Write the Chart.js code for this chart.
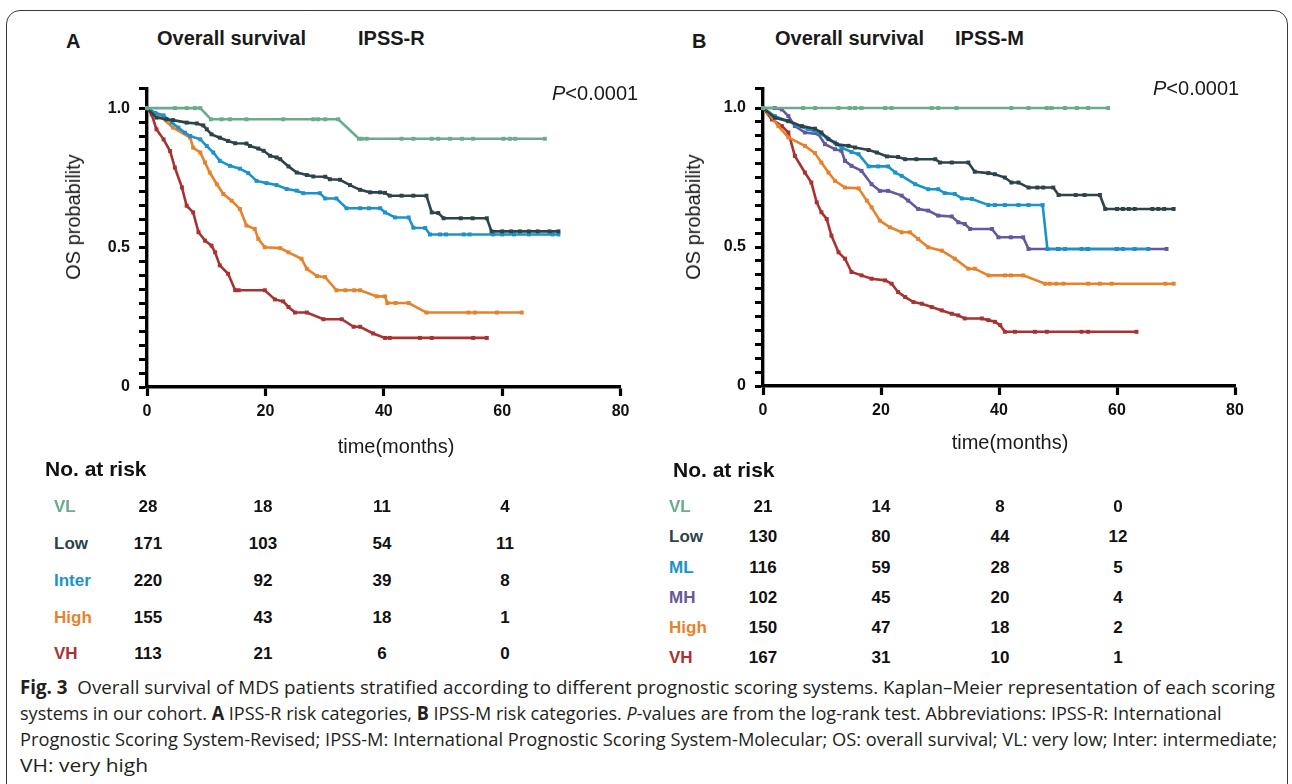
<!DOCTYPE html>
<html>
<head>
<meta charset="utf-8">
<script src="https://cdn.jsdelivr.net/npm/chart.js@4.4.1/dist/chart.umd.min.js"></script>
<style>
  body { margin:0; width:1292px; height:784px; overflow:hidden; background:#fff; position:relative;
         font-family:"Liberation Sans", Arial, sans-serif; color:#1a1a1a; }
  .t { position:absolute; white-space:nowrap; line-height:1; }
  .frame { position:absolute; left:6px; top:10px; width:1280px; height:820px; border:1px solid #3a3a3a; border-radius:14px; }
  canvas { position:absolute; }
  .cap { position:absolute; left:20px; white-space:nowrap; line-height:1; font-family:"Open Sans","DejaVu Sans Condensed",sans-serif;
         font-size:19px; color:#231f20; transform-origin:0 50%; }
</style>
</head>
<body>
<div class="frame"></div>
<canvas id="chartA" width="620" height="400" style="left:30px;top:70px;width:620px;height:400px"></canvas>
<canvas id="chartB" width="620" height="400" style="left:650px;top:70px;width:620px;height:400px"></canvas>
<div id="texts"></div>

<script>
// colours of the risk groups
var cVL = '#6aab8e', cLow = '#2c434a', cInter = '#1b93c9', cHigh = '#e5832b', cVH = '#a83232', cMH = '#65589c';

// panel A, IPSS-R: [months, OS probability]
var aVL = [[0,1],[4.7,1],[6.7,1],[8.1,1],[9,1],[10.8,0.96],[12.6,0.96],[14,0.96],[16.8,0.96],[23,0.96],[28.1,0.96],[28.9,0.96],[30.1,0.96],[32.3,0.96],[35.8,0.89],[36.3,0.89],[37.1,0.89],[43,0.89],[45,0.89],[48.1,0.89],[49.2,0.89],[51.2,0.89],[53.2,0.89],[55.1,0.89],[60.2,0.89],[61.3,0.89],[62.2,0.89],[67.2,0.89]];
var aLow = [[0,1],[1.6,0.966],[3.3,0.96],[4.4,0.957],[6.7,0.948],[8.4,0.945],[9.5,0.938],[10.1,0.924],[10.9,0.906],[12.3,0.894],[13.7,0.882],[14.9,0.874],[16.8,0.873],[17.4,0.864],[18.8,0.855],[19.7,0.847],[20.8,0.829],[21.9,0.823],[22.5,0.817],[23.9,0.791],[25.3,0.769],[27,0.76],[28.1,0.755],[30.1,0.754],[30.9,0.745],[32.6,0.743],[34.3,0.724],[36,0.707],[37.7,0.698],[39.4,0.698],[40.2,0.696],[41,0.686],[43,0.686],[45,0.686],[47.2,0.686],[48.1,0.626],[49.2,0.624],[50.1,0.605],[53,0.605],[55,0.605],[57.4,0.605],[58.2,0.558],[60,0.558],[61.5,0.558],[63,0.558],[64.5,0.558],[66,0.558],[68,0.558],[69.5,0.558]];
var aInter = [[0,1],[1.4,0.983],[2.8,0.974],[4.2,0.948],[5.3,0.93],[6.4,0.912],[7.3,0.9],[9,0.888],[10.1,0.864],[11.2,0.841],[12.3,0.811],[14,0.793],[15.7,0.783],[17.1,0.767],[18.5,0.739],[20.2,0.731],[21.9,0.724],[23.6,0.71],[25.3,0.704],[26.4,0.695],[29.2,0.695],[30.1,0.676],[32,0.676],[33.7,0.641],[36,0.641],[37.5,0.641],[39.4,0.641],[40.2,0.626],[41.9,0.608],[44.2,0.608],[45,0.571],[47,0.57],[47.8,0.547],[49.5,0.547],[50.5,0.547],[53.5,0.547],[54.5,0.547],[58.5,0.547],[60,0.547],[62,0.547],[64.5,0.547],[68.5,0.547],[69.5,0.547]];
var aHigh = [[0,1],[2.2,0.972],[4.4,0.93],[7.3,0.894],[7.8,0.858],[9,0.841],[9.8,0.805],[10.6,0.769],[11.8,0.727],[12.9,0.692],[14.3,0.668],[15.7,0.638],[16.8,0.579],[18.2,0.567],[18.8,0.531],[19.9,0.501],[22.5,0.498],[23.9,0.483],[26.1,0.46],[27,0.424],[28.7,0.398],[30.1,0.394],[32,0.347],[33.5,0.347],[35,0.347],[36,0.347],[38.8,0.325],[40.2,0.325],[40.6,0.301],[42,0.301],[44.2,0.301],[47.2,0.267],[54.3,0.267],[55.4,0.267],[59.1,0.267],[63.3,0.267]];
var aVH = [[0,1],[0.8,0.977],[1.6,0.924],[2.8,0.888],[3.9,0.846],[4.7,0.787],[5.9,0.716],[6.7,0.65],[7.8,0.626],[8.7,0.555],[9.8,0.525],[10.9,0.507],[11.5,0.483],[12.3,0.436],[13.7,0.406],[14.9,0.347],[15.5,0.347],[19.9,0.347],[21.6,0.314],[23,0.307],[23.9,0.287],[25,0.267],[27,0.267],[29.8,0.243],[32.9,0.243],[34.9,0.216],[36,0.216],[38.2,0.192],[40.2,0.176],[41,0.176],[46.1,0.176],[48.1,0.176],[55.1,0.176],[57.4,0.176]];

// panel B, IPSS-M
var bVL = [[0,1],[6.8,1],[8.8,1],[12.8,1],[14.7,1],[15.6,1],[16.7,1],[20.7,1],[21.8,1],[28.6,1],[29.7,1],[32.8,1],[42.1,1],[45,1],[48.1,1],[48.9,1],[51.2,1],[53.2,1],[55.1,1],[58.5,1]];
var bLow = [[0,1],[2,0.965],[4.3,0.953],[6.6,0.935],[8.8,0.926],[9.9,0.912],[11.1,0.888],[12.5,0.87],[14.5,0.864],[15.6,0.858],[17.9,0.849],[19.3,0.84],[21,0.826],[22.9,0.824],[24.1,0.816],[26,0.816],[29.2,0.816],[30,0.804],[32,0.804],[34.8,0.804],[35.9,0.771],[38.2,0.766],[39.3,0.762],[41,0.75],[42.1,0.732],[43.3,0.732],[45,0.714],[46.5,0.714],[47.5,0.714],[49.2,0.714],[50.1,0.687],[53,0.687],[54.5,0.687],[57.1,0.687],[58,0.637],[60,0.637],[61,0.637],[62,0.637],[63,0.637],[66,0.637],[67,0.637],[68,0.637],[69.6,0.637]];
var bML = [[0,1],[2,0.971],[4.3,0.953],[6,0.935],[7.7,0.924],[9.4,0.912],[10.8,0.894],[12.2,0.876],[13.3,0.858],[15,0.842],[16.2,0.834],[17.9,0.79],[19.5,0.79],[21.2,0.79],[22.4,0.768],[23.5,0.756],[25.8,0.726],[28,0.708],[29.7,0.708],[30.8,0.694],[32.5,0.691],[33.7,0.675],[35.4,0.673],[38.2,0.651],[39.3,0.651],[41,0.651],[43.3,0.651],[45,0.651],[47.4,0.651],[48.2,0.493],[50.1,0.493],[51.2,0.493],[54,0.493],[55.1,0.493],[59.9,0.493],[61,0.493],[63,0.493],[65.3,0.493]];
var bMH = [[0,1],[2,1],[3.2,0.995],[4.3,0.971],[5.4,0.935],[7.1,0.912],[9.4,0.906],[10.5,0.87],[12.2,0.852],[13.3,0.846],[13.9,0.81],[15,0.792],[16.7,0.774],[18.4,0.726],[19.8,0.702],[21.2,0.702],[23.5,0.685],[24.6,0.667],[26.3,0.637],[28,0.631],[29.7,0.613],[32,0.61],[33.1,0.589],[34.2,0.583],[35.1,0.565],[38.8,0.565],[39.9,0.535],[42,0.535],[44.1,0.535],[45,0.493],[50,0.493],[55,0.493],[60,0.493],[68.4,0.493]];
var bHigh = [[0,1],[0.9,0.983],[2.6,0.935],[4.3,0.894],[7.1,0.864],[8.8,0.838],[9.9,0.804],[11.1,0.768],[12.2,0.738],[13.9,0.714],[16.2,0.711],[17.6,0.667],[18.4,0.643],[19.8,0.595],[21.5,0.571],[23.5,0.553],[24.9,0.553],[26.3,0.529],[28,0.499],[30.3,0.487],[32.5,0.458],[34.8,0.422],[35.9,0.422],[38.2,0.398],[41,0.398],[42,0.398],[44.1,0.398],[47.8,0.368],[48.6,0.368],[49.7,0.368],[50.9,0.368],[55.1,0.368],[57.1,0.368],[59.1,0.368],[68.2,0.368],[69.6,0.368]];
var bVH = [[0,1],[1.5,0.959],[3.2,0.935],[4.3,0.912],[5.4,0.828],[7.1,0.768],[8.2,0.732],[9.1,0.661],[9.9,0.625],[10.8,0.601],[11.6,0.541],[12.8,0.481],[13.9,0.458],[15,0.41],[16.7,0.398],[18.4,0.386],[20.7,0.38],[21.8,0.368],[22.9,0.338],[24.1,0.32],[25.5,0.302],[26.9,0.296],[28.6,0.284],[30.3,0.272],[32,0.26],[33.1,0.254],[34.2,0.243],[37.1,0.243],[38.2,0.237],[39.3,0.231],[40.2,0.219],[41,0.195],[42.7,0.195],[46.1,0.195],[48.1,0.195],[54,0.195],[55.1,0.195],[63.3,0.195]];

// number at risk tables
var riskLabelsA = ['VL', 'Low', 'Inter', 'High', 'VH'];
var riskColorsA = [cVL, cLow, cInter, cHigh, cVH];
var riskA = [[28,18,11,4],[171,103,54,11],[220,92,39,8],[155,43,18,1],[113,21,6,0]];
var riskLabelsB = ['VL', 'Low', 'ML', 'MH', 'High', 'VH'];
var riskColorsB = [cVL, cLow, cInter, cMH, cHigh, cVH];
var riskB = [[21,14,8,0],[130,80,44,12],[116,59,28,5],[102,45,20,4],[150,47,18,2],[167,31,10,1]];

var xTicks = [0, 20, 40, 60, 80];

function createChart(canvasId, curves, colors, yW, xH, padTop, padRight) {
  var sets = curves.map(function(c, i) {
    return {
      data: c.map(function(p) { return { x: p[0], y: p[1] }; }),
      showLine: true,
      borderColor: colors[i],
      backgroundColor: colors[i],
      borderWidth: 2.6,
      pointStyle: 'rect',
      pointRadius: 2.8,
      pointBorderWidth: 0,
      pointHoverRadius: 0,
      tension: 0,
      clip: false
    };
  });
  var tickFont = { family: 'Liberation Sans', size: 16, weight: 'bold' };
  return new Chart(document.getElementById(canvasId), {
    type: 'scatter',
    data: { datasets: sets },
    options: {
      responsive: false,
      animation: false,
      events: [],
      layout: { padding: { top: padTop, right: padRight, left: 0, bottom: 0 } },
      plugins: { legend: { display: false }, tooltip: { enabled: false } },
      scales: {
        x: {
          type: 'linear', min: xTicks[0], max: xTicks[xTicks.length - 1],
          afterBuildTicks: function(s) { s.ticks = xTicks.map(function(v) { return { value: v }; }); },
          ticks: { color: '#111', font: tickFont, padding: 6, maxRotation: 0 },
          grid: { drawOnChartArea: false, color: '#000', tickLength: 9, tickWidth: 3.2 },
          border: { color: '#000', width: 3.4 },
          afterFit: function(s) { s.height = xH; }
        },
        y: {
          min: 0, max: 1.07,
          ticks: {
            stepSize: 0.05, autoSkip: false, color: '#111', font: tickFont, padding: 9,
            callback: function(v) {
              if (Math.abs(v - 1) < 1e-6) return '1.0';
              if (Math.abs(v - 0.5) < 1e-6) return '0.5';
              if (Math.abs(v) < 1e-6) return '0';
              return '';
            }
          },
          grid: { drawOnChartArea: false, color: '#000', tickLength: 8, tickWidth: 3 },
          border: { color: '#000', width: 3.4 },
          afterFit: function(s) { s.width = yW; }
        }
      }
    }
  });
}

createChart('chartA', [aVL, aLow, aInter, aHigh, aVH], [cVL, cLow, cInter, cHigh, cVH], 117, 83, 17.4, 29.4);
createChart('chartB', [bVL, bLow, bML, bMH, bHigh, bVH], [cVL, cLow, cInter, cMH, cHigh, cVH], 113, 84, 17.5, 35);

// text around the plots
var box = document.getElementById('texts');
function txt(html, x, y, css, centred) {
  var d = document.createElement('div');
  d.className = 't';
  d.innerHTML = html;
  d.style.left = x + 'px';
  d.style.top = y + 'px';
  d.style.cssText += css;
  d.style.transform = centred ? 'translate(-50%,-50%)' : 'translate(0,-50%)';
  box.appendChild(d);
  return d;
}
var bold20 = 'font-size:20px;font-weight:bold;';
txt('A', 66, 41, bold20);
txt('Overall survival', 157, 38, bold20);
txt('IPSS-R', 358, 38, bold20);
txt('B', 692, 41, bold20);
txt('Overall survival', 775, 38, bold20);
txt('IPSS-M', 955, 38, bold20);
txt('<i>P</i>&lt;0.0001', 552, 93, 'font-size:20px;');
txt('<i>P</i>&lt;0.0001', 1153, 88, 'font-size:20px;');
txt('OS probability', 73, 217, 'font-size:20px;', true).style.transform = 'translate(-50%,-50%) rotate(-90deg)';
txt('OS probability', 693, 217, 'font-size:20px;', true).style.transform = 'translate(-50%,-50%) rotate(-90deg)';
txt('time(months)', 396, 446, 'font-size:20px;', true);
txt('time(months)', 1010, 442, 'font-size:20px;', true);

function riskTable(labels, colors, rows, titleX, titleY, labelX, rowY, colX) {
  txt('No. at risk', titleX, titleY, 'font-size:21px;font-weight:bold;color:#111;');
  labels.forEach(function(l, i) {
    txt(l, labelX, rowY[i], 'font-size:17px;font-weight:bold;color:' + colors[i] + ';');
    rows[i].forEach(function(n, j) {
      txt(String(n), colX[j], rowY[i], 'font-size:17px;font-weight:bold;color:#111;', true);
    });
  });
}
riskTable(riskLabelsA, riskColorsA, riskA, 45, 468, 54, [506, 543, 580, 617, 653], [148, 263, 382, 505]);
riskTable(riskLabelsB, riskColorsB, riskB, 673, 469, 669, [506, 536, 567, 597, 627, 657], [763, 881, 1000, 1118]);

// caption, one div per line, squeezed to the reference line widths
var capLines = [
  ['<b>Fig. 3</b>&nbsp; Overall survival of MDS patients stratified according to different prognostic scoring systems. Kaplan\u2013Meier representation of each scoring', 688, 1255],
  ['systems in our cohort. <b>A</b> IPSS-R risk categories, <b>B</b> IPSS-M risk categories. <i>P</i>-values are from the log-rank test. Abbreviations: IPSS-R: International', 714, 1202],
  ['Prognostic Scoring System-Revised; IPSS-M: International Prognostic Scoring System-Molecular; OS: overall survival; VL: very low; Inter: intermediate;', 740, 1257],
  ['VH: very high', 766, 128]
];
capLines.forEach(function(c) {
  var d = document.createElement('div');
  d.className = 'cap';
  d.innerHTML = c[0];
  d.style.top = (c[1] - 10) + 'px';
  document.body.appendChild(d);
  d.style.transform = 'scaleX(' + (c[2] / d.offsetWidth) + ')';
});
</script>
</body>
</html>
